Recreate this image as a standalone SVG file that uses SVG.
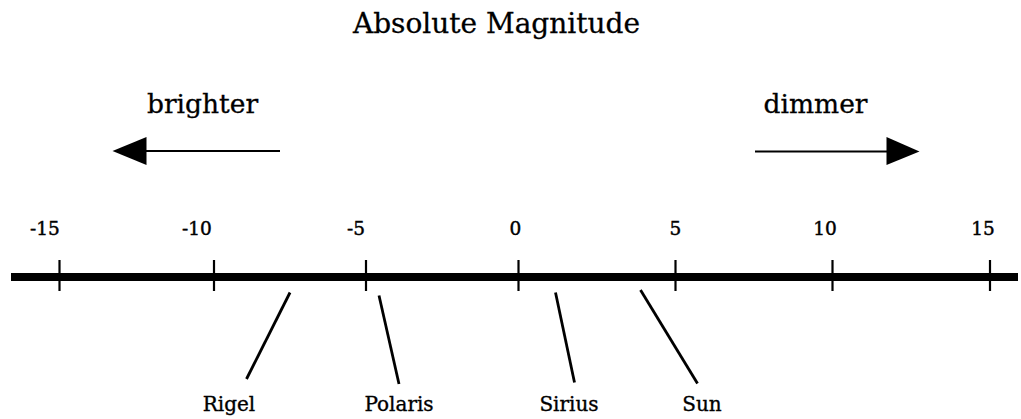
<svg xmlns="http://www.w3.org/2000/svg" width="1021" height="419" viewBox="0 0 1021 419">
<defs>
<style>
text{font-family:"DejaVu Serif","Liberation Serif",serif;fill:#000;stroke:#000;stroke-width:0.3}
.title{font-size:28px}
.dir{font-size:26.5px}
.num{font-size:18.5px;text-anchor:middle;stroke-width:0.45}
.star{font-size:20px;text-anchor:middle;stroke-width:0.35}
.axis{stroke:#000;stroke-width:8;fill:none}
.tick{stroke:#000;stroke-width:2.2;fill:none}
.lead{stroke:#000;stroke-width:2.8;fill:none;stroke-linecap:butt}
.arr{stroke:#000;stroke-width:2.2;fill:none}
</style>
</defs>
<rect width="1021" height="419" fill="#fff"/>
<g id="title"><text class="title" x="496.5" y="33" text-anchor="middle">Absolute Magnitude</text></g>
<g id="brighter">
<text class="dir" x="202.5" y="113" text-anchor="middle">brighter</text>
<line class="arr" x1="146" y1="151" x2="280" y2="151"/>
<polygon points="112.5,151 146.5,137 146.5,165" fill="#000"/>
</g>
<g id="dimmer">
<text class="dir" x="815.5" y="113" text-anchor="middle">dimmer</text>
<line class="arr" x1="755" y1="151.5" x2="887" y2="151.5"/>
<polygon points="919.5,151.5 886.5,137 886.5,165" fill="#000"/>
</g>
<g id="axis">
<line class="axis" x1="11" y1="277" x2="1018" y2="277"/>
<line class="tick" x1="59.5" y1="260" x2="59.5" y2="291"/>
<line class="tick" x1="214" y1="260" x2="214" y2="291"/>
<line class="tick" x1="366" y1="260" x2="366" y2="291"/>
<line class="tick" x1="518.5" y1="260" x2="518.5" y2="291"/>
<line class="tick" x1="675.5" y1="260" x2="675.5" y2="291"/>
<line class="tick" x1="832.5" y1="260" x2="832.5" y2="291"/>
<line class="tick" x1="990" y1="260" x2="990" y2="291"/>
<text class="num" x="45" y="235">-15</text>
<text class="num" x="197" y="235">-10</text>
<text class="num" x="356" y="235">-5</text>
<text class="num" x="515.5" y="235">0</text>
<text class="num" x="675.5" y="235">5</text>
<text class="num" x="825" y="235">10</text>
<text class="num" x="983" y="235">15</text>
</g>
<g id="connectors">
<line class="lead" x1="290" y1="292.5" x2="246.5" y2="379"/>
<line class="lead" x1="379" y1="295.5" x2="399" y2="384"/>
<line class="lead" x1="555.5" y1="292.5" x2="574.5" y2="382.5"/>
<line class="lead" x1="640.5" y1="290" x2="697.5" y2="383.5"/>
</g>
<g id="rigel"><text class="star" x="229" y="411">Rigel</text></g>
<g id="polaris"><text class="star" x="399" y="411">Polaris</text></g>
<g id="sirius"><text class="star" x="569" y="411">Sirius</text></g>
<g id="sun"><text class="star" x="702" y="411">Sun</text></g>
</svg>
